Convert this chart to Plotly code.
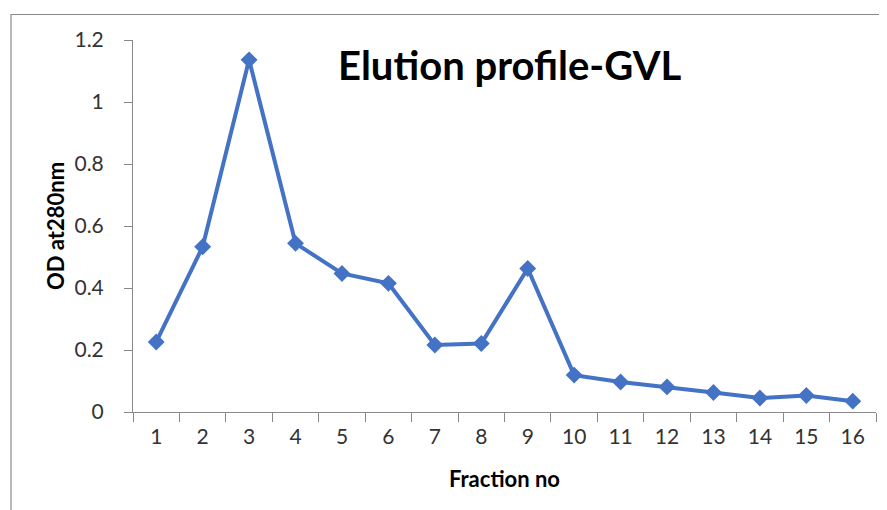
import plotly.graph_objects as go

fractions = [str(i) for i in range(1, 17)]
od280 = [0.226, 0.533, 1.136, 0.544, 0.447, 0.415, 0.216, 0.221, 0.463, 0.119,
         0.097, 0.081, 0.063, 0.045, 0.053, 0.035]
y_ticks = [0, 0.2, 0.4, 0.6, 0.8, 1.0, 1.2]
y_tick_labels = ["0", "0.2", "0.4", "0.6", "0.8", "1", "1.2"]

# page body has an 8px margin; compensate so the final picture lines up
O = 8
W, H = 887 - O, 510 - O
L, R, T, B = 133 - O, 11, 40 - O, 98
pw, ph = W - L - R, H - T - B

def px(x):
    return (x - O - L) / pw

def py(y):
    return (H - B - (y - O)) / ph

FONT = "Lato"
AX = "#898989"
TXT = "#333333"

fig = go.Figure(go.Scatter(
    x=fractions, y=od280, mode="lines+markers",
    line=dict(color="#4472C4", width=4),
    marker=dict(symbol="diamond", size=13, color="#4472C4"),
    cliponaxis=False,
))

fig.update_layout(
    width=W, height=H,
    margin=dict(l=L, r=R, t=T, b=B, autoexpand=False),
    paper_bgcolor="white", plot_bgcolor="white",
    showlegend=False,
    font=dict(family=FONT, color=TXT),
    xaxis=dict(type="category", range=[-0.5, 15.5], tickson="boundaries",
               ticks="outside",
               ticklen=9, tickcolor=AX, showline=True, linecolor=AX,
               linewidth=1, showgrid=False, zeroline=False,
               tickfont=dict(size=21, family=FONT, color=TXT),
               ticklabelstandoff=6),
    yaxis=dict(range=[0, 1.2], tickvals=y_ticks, ticktext=y_tick_labels,
               ticks="outside", ticklen=8, tickcolor=AX, showline=True,
               linecolor=AX, linewidth=1, showgrid=False, zeroline=False,
               tickfont=dict(size=21, family=FONT, color=TXT),
               ticklabelstandoff=16),
    shapes=[dict(type="rect", xref="paper", yref="paper",
                 x0=px(11), x1=px(900), y0=py(530), y1=py(14.5),
                 line=dict(color=AX, width=1.2), fillcolor="rgba(0,0,0,0)",
                 layer="below")],
    annotations=[
        dict(text="<b>Elution profile-GVL</b>", xref="paper", yref="paper",
             x=px(509), y=py(65), xanchor="center", yanchor="middle",
             showarrow=False, font=dict(size=40, family=FONT, color="black")),
        dict(text="<b>OD at280nm</b>", xref="paper", yref="paper",
             x=px(55), y=py(226), xanchor="center", yanchor="middle",
             textangle=-90, showarrow=False,
             font=dict(size=22, family=FONT, color="black")),
        dict(text="<b>Fraction no</b>", xref="paper", yref="paper",
             x=px(505), y=py(478), xanchor="center", yanchor="middle",
             showarrow=False, font=dict(size=22, family=FONT, color="black")),
    ],
)

fig.write_html("out.html")
